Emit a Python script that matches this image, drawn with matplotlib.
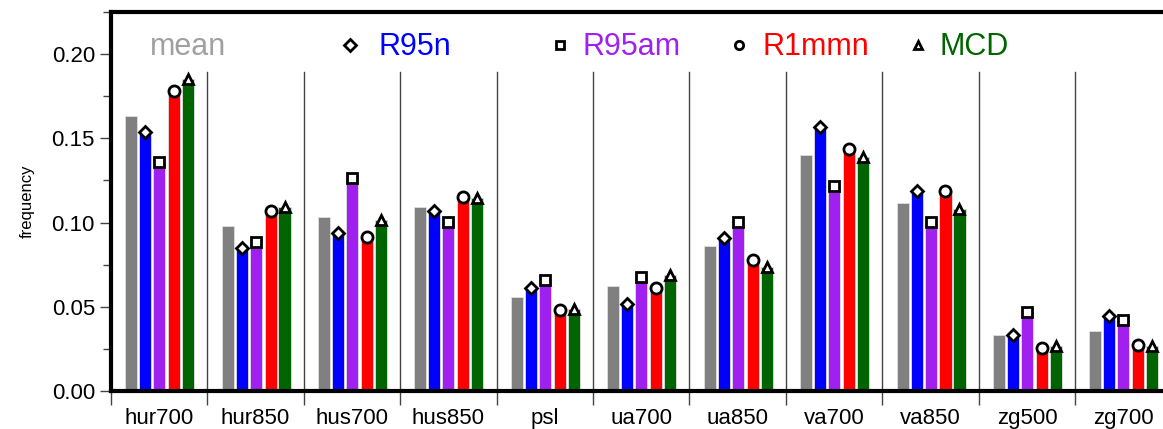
import numpy as np
import matplotlib
matplotlib.use("Agg")
from matplotlib import pyplot as plt
from matplotlib.ticker import MultipleLocator

plt.rcParams['font.family'] = ['Liberation Sans', 'DejaVu Sans']

variables = ['hur700', 'hur850', 'hus700', 'hus850', 'psl', 'ua700',
             'ua850', 'va700', 'va850', 'zg500', 'zg700']
series_names = ['mean', 'R95n', 'R95am', 'R1mmn', 'MCD']
mean_vals = [0.163, 0.098, 0.1035, 0.1094, 0.056, 0.0623, 0.086, 0.140, 0.1114, 0.0332, 0.0356]
r95n_vals = [0.1537, 0.0847, 0.094, 0.107, 0.061, 0.0516, 0.0906, 0.157, 0.119, 0.0335, 0.0447]
r95am_vals = [0.136, 0.0886, 0.1264, 0.1005, 0.0659, 0.0678, 0.1005, 0.1217, 0.1005, 0.0467, 0.0421]
r1mmn_vals = [0.178, 0.107, 0.0916, 0.115, 0.048, 0.0613, 0.078, 0.1436, 0.119, 0.0253, 0.0273]
mcd_vals = [0.185, 0.1094, 0.1015, 0.1145, 0.0485, 0.0688, 0.0738, 0.1387, 0.1078, 0.0267, 0.0267]

colors = ['#808080', '#0000ff', '#a020f0', '#ff0000', '#006400']
label_colors = ['#a0a0a0', '#0000ff', '#a020f0', '#ff0000', '#006400']
markers = [None, 'D', 's', 'o', '^']
marker_sizes = [0, 6, 6.5, 8, 7]

all_vals = [mean_vals, r95n_vals, r95am_vals, r1mmn_vals, mcd_vals]

fig = plt.figure(figsize=(11.63, 4.29), dpi=100)
ax = fig.add_axes([0.0954, 0.0886, 0.912, 0.8834])

x = np.arange(len(variables))
offsets = [-0.29, -0.145, 0.0, 0.155, 0.30]
width = 0.125

for vals, col, mk, ms, off in zip(all_vals, colors, markers, marker_sizes, offsets):
    ax.bar(x + off, vals, width=width, color=col, edgecolor='#e0e0e0', linewidth=0.6, zorder=2)
    if mk is not None:
        ax.plot(x + off, vals, linestyle='none', marker=mk, markersize=ms,
                markerfacecolor='white', markeredgecolor='black', markeredgewidth=2, zorder=3)

# group separators
for b in np.arange(len(variables) + 1) - 0.5:
    ax.axvline(b, ymin=0, ymax=0.842, color='#444444', linewidth=1, zorder=1)

ax.set_xlim(-0.5, len(variables) - 0.5)
ax.set_ylim(0, 0.225)

ax.set_xticks(np.arange(len(variables) + 1) - 0.5)
ax.set_xticklabels([])
ax.set_xticks(x, minor=True)
ax.set_xticklabels(variables, minor=True, fontsize=16)
ax.tick_params(axis='x', which='major', direction='out', length=10, width=1, color='#444444')
ax.tick_params(axis='x', which='minor', length=0, pad=12)

ax.yaxis.set_major_locator(MultipleLocator(0.05))
ax.yaxis.set_minor_locator(MultipleLocator(0.025))
ax.set_yticks([0.0, 0.05, 0.10, 0.15, 0.20])
ax.set_yticklabels(['0.00', '0.05', '0.10', '0.15', '0.20'], fontsize=16)
ax.tick_params(axis='y', which='major', direction='out', length=8, width=1, color='#444444')
ax.tick_params(axis='y', which='minor', direction='out', length=6, width=1, color='#444444')
ax.set_ylabel('frequency', fontsize=12, labelpad=12)

for side in ['left', 'bottom', 'top']:
    ax.spines[side].set_linewidth(3)
ax.spines['right'].set_visible(False)

# legend row
leg_marker_x = [None, 0.2255, 0.4236, 0.5925, 0.761]
leg_text_x = [0.037, 0.252, 0.445, 0.614, 0.781]
leg_y = 0.912
for name, tc, mk, mx, tx in zip(series_names, label_colors, markers, leg_marker_x, leg_text_x):
    if mk is not None:
        ax.plot([mx], [leg_y], transform=ax.transAxes, marker=mk, markersize=6,
                markerfacecolor='white', markeredgecolor='black', markeredgewidth=2,
                linestyle='none', clip_on=False)
    ax.text(tx, leg_y - 0.005, name, transform=ax.transAxes, color=tc, fontsize=22,
            ha='left', va='center')

fig.savefig('out.png', dpi=100)
